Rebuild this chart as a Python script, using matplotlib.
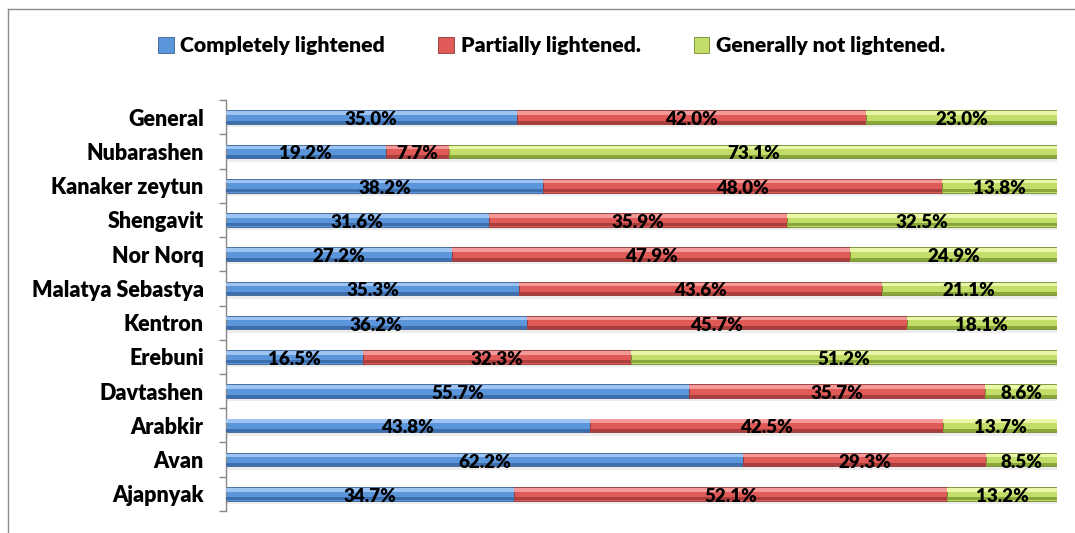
import numpy as np
import matplotlib.pyplot as plt
from matplotlib.lines import Line2D
from matplotlib.patches import Patch

plt.rcParams['font.family'] = ['Lato', 'DejaVu Sans']

districts = ['General', 'Nubarashen', 'Kanaker zeytun', 'Shengavit', 'Nor Norq',
             'Malatya Sebastya', 'Kentron', 'Erebuni', 'Davtashen', 'Arabkir',
             'Avan', 'Ajapnyak']
completely = [35.0, 19.2, 38.2, 31.6, 27.2, 35.3, 36.2, 16.5, 55.7, 43.8, 62.2, 34.7]
partially = [42.0, 7.7, 48.0, 35.9, 47.9, 43.6, 45.7, 32.3, 35.7, 42.5, 29.3, 52.1]
not_lightened = [23.0, 73.1, 13.8, 32.5, 24.9, 21.1, 18.1, 51.2, 8.6, 13.7, 8.5, 13.2]
series_names = ['Completely lightened', 'Partially lightened.', 'Generally not lightened.']

# (mid, light top, dark bottom, edge) for each series
palette = [
    ('#5B95DA', '#9CC3F2', '#3D6FAE', '#3A5F92'),
    ('#E05A58', '#F39A98', '#A93E3C', '#8E3634'),
    ('#C3DE68', '#E8F7A8', '#88A63A', '#6F8A2E'),
]
W = 'heavy'

fig = plt.figure(figsize=(10.75, 5.33), dpi=100)
ax = fig.add_axes([0.2102, 0.0413, 0.773, 0.771])

y = np.arange(len(districts))
h = 0.40
left = np.zeros(len(districts))
for vals, (mid, top, bot, edge) in zip([completely, partially, not_lightened], palette):
    vals = np.array(vals)
    # soft shadow under the bar
    ax.barh(y + 0.10, vals, height=h, left=left, color='#000000', alpha=0.07,
            linewidth=0, zorder=1)
    ax.barh(y, vals, height=h, left=left, color=mid, edgecolor=edge,
            linewidth=0.6, zorder=2)
    ax.barh(y - h * 0.30, vals, height=h * 0.26, left=left, color=top,
            linewidth=0, zorder=3)
    ax.barh(y + h * 0.36, vals, height=h * 0.22, left=left, color=bot,
            linewidth=0, zorder=3)
    for yi, l, v in zip(y, left, vals):
        ax.text(l + v / 2, yi + 0.07, f'{v:.1f}%', ha='center', va='center',
                fontsize=13.5, fontweight=W, color='black', zorder=5)
    left = left + vals

ax.set_xlim(0, 100)
ax.set_ylim(len(districts) - 0.5, -0.5)
ax.set_yticks(y)
ax.set_yticklabels(districts, fontsize=15.5, fontweight=W)
ax.set_yticks(np.arange(-0.5, len(districts), 1), minor=True)
ax.tick_params(axis='y', which='major', length=0, pad=16)
ax.tick_params(axis='y', which='minor', length=5, color='#888888', width=1)
ax.set_xticks([])
for s in ['top', 'right', 'bottom']:
    ax.spines[s].set_visible(False)
ax.spines['left'].set_color('#888888')
ax.spines['left'].set_linewidth(1)

handles = [Patch(facecolor=p[0], edgecolor=p[3], linewidth=0.6) for p in palette]
fig.legend(handles, series_names, loc='center', bbox_to_anchor=(0.513, 0.914),
           ncol=3, frameon=False, handlelength=0.75, handleheight=0.75,
           handletextpad=0.3, columnspacing=2.5, prop={'weight': W, 'size': 15.3})

# chart area border (top and left edges)
fig.add_artist(Line2D([8 / 1075, 1.0], [1 - 9 / 533, 1 - 9 / 533], color='#8c8c8c',
                      linewidth=1, transform=fig.transFigure))
fig.add_artist(Line2D([8 / 1075, 8 / 1075], [0.0, 1 - 9 / 533], color='#8c8c8c',
                      linewidth=1, transform=fig.transFigure))

fig.savefig('out.png', dpi=100)
